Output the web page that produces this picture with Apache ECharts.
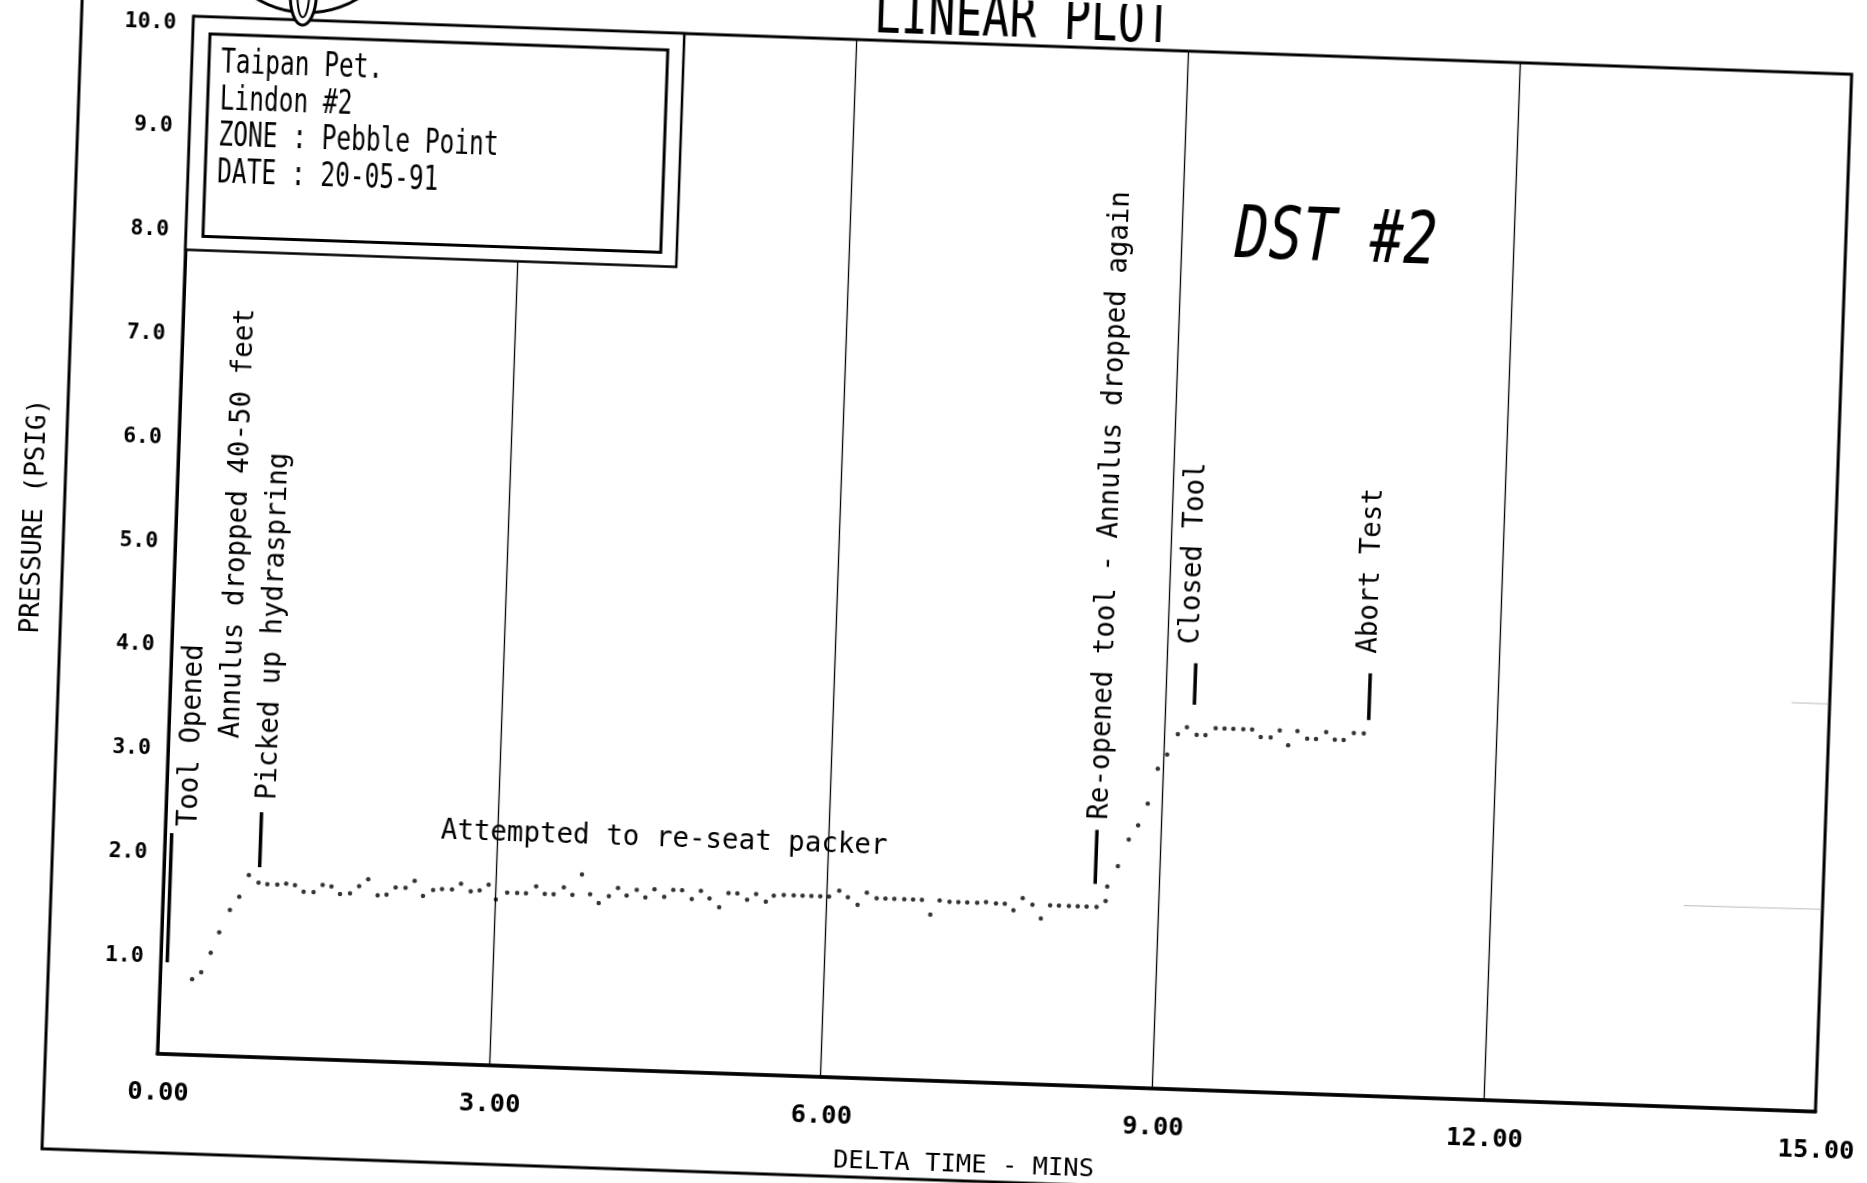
<!DOCTYPE html>
<html><head><meta charset="utf-8">
<script src="https://cdn.jsdelivr.net/npm/echarts@6/dist/echarts.min.js"></script>
<style>
html,body{margin:0;padding:0;background:#fff;overflow:hidden;width:1867px;height:1183px;}
#wrap{position:absolute;left:0;top:0;width:1960px;height:1260px;transform-origin:1004px 564px;transform:rotate(2deg);}
#chart{width:1960px;height:1260px;}
</style></head><body>
<div id="wrap"><div id="chart"></div></div>
<script>
// ---- data (DELTA TIME in minutes, PRESSURE in psig) ----
const timeMin = [
 0.29,0.37,0.45,0.52,0.61,0.69,0.77,0.86,0.94,1.03,1.11,1.19,1.27,1.36,1.44,1.52,1.60,1.69,1.77,1.85,
 1.94,2.02,2.10,2.19,2.27,2.35,2.44,2.52,2.61,2.69,2.78,2.86,2.94,3.01,3.11,3.20,3.28,3.37,3.45,3.53,
 3.62,3.70,3.78,3.86,3.94,4.03,4.11,4.19,4.28,4.36,4.44,4.53,4.61,4.69,4.78,4.86,4.94,5.03,5.11,5.19,
 5.28,5.36,5.45,5.52,5.61,5.70,5.78,5.86,5.94,6.02,6.11,6.19,6.28,6.36,6.45,6.53,6.61,6.70,6.78,6.86,
 6.94,7.02,7.11,7.19,7.27,7.36,7.44,7.53,7.61,7.69,7.77,7.86,7.94,8.02,8.10,8.19,8.27,8.35,8.44,8.52,
 8.53,8.62,8.71,8.79,8.87,8.95,9.03,9.12,9.20,9.29,9.37,9.46,9.54,9.62,9.71,9.79,9.87,9.96,10.04,10.12,
 10.20,10.29,10.37,10.46,10.54,10.62,10.71,10.80
];
const pressurePsig = [
 0.73,0.80,0.99,1.19,1.41,1.54,1.75,1.68,1.67,1.67,1.68,1.67,1.61,1.61,1.68,1.67,1.60,1.61,1.68,1.75,
 1.60,1.61,1.68,1.68,1.75,1.61,1.67,1.68,1.68,1.74,1.67,1.68,1.74,1.60,1.67,1.67,1.67,1.74,1.67,1.67,
 1.74,1.67,1.87,1.68,1.60,1.67,1.75,1.68,1.74,1.67,1.75,1.68,1.75,1.75,1.67,1.75,1.68,1.60,1.74,1.74,
 1.68,1.74,1.67,1.73,1.74,1.74,1.74,1.74,1.74,1.74,1.80,1.74,1.67,1.79,1.74,1.74,1.74,1.74,1.74,1.74,
 1.60,1.74,1.73,1.73,1.73,1.73,1.74,1.73,1.73,1.67,1.79,1.73,1.60,1.73,1.73,1.73,1.73,1.73,1.73,1.79,
 1.93,2.13,2.39,2.53,2.74,3.08,3.22,3.42,3.49,3.42,3.42,3.49,3.49,3.49,3.49,3.49,3.42,3.42,3.49,3.35,
 3.49,3.42,3.42,3.49,3.42,3.42,3.49,3.49
];
// event marker bars (time, low pressure, high pressure)
const markerTime = [0.06, 0.865, 8.42, 9.26, 10.84];
const markerLow  = [0.885, 1.83, 1.95, 3.71, 3.62];
const markerHigh = [2.13, 2.36, 2.47, 4.11, 4.07];
// vertical annotation texts (anchor = lower end of the text)
const annotText = ['Tool Opened','Annulus dropped 40-50 feet','Picked up hydraspring',
  'Re-opened tool - Annulus dropped again','Closed Tool','Abort Test'];
const annotTime = [0.22, 0.57, 0.925, 8.44, 9.21, 10.82];
const annotPres = [2.20, 3.06, 2.48, 2.57, 4.29, 4.26];
// horizontal annotation
const noteText = 'Attempted to re-seat packer';
const noteTime = 2.49, notePres = 2.16;
// faint traces at right edge
const traceATime = [13.75, 15.0], traceAPres = [1.94, 1.95];
const traceBTime = [14.66, 15.0], traceBPres = [3.93, 3.93];
// ticks
const xTickLabels = ['0.00','3.00','6.00','9.00','12.00','15.00'];
const yTickLabels = ['','1.0','2.0','3.0','4.0','5.0','6.0','7.0','8.0','9.0','10.0'];
const infoLines = ['Taipan Pet.','Lindon #2','ZONE : Pebble Point','DATE : 20-05-91'];
const titleText = 'LINEAR PLOT';
const stampText = 'DST #2';

const MONO = "'DejaVu Sans Mono','Liberation Mono',monospace";
const chart = echarts.init(document.getElementById('chart'), null, {renderer:'canvas'});

const series = [{
  type:'scatter', data: timeMin.map((t,i)=>[t, pressurePsig[i]]),
  symbol:'circle', symbolSize:4.5, itemStyle:{color:'#000'}, z:5, silent:true
}];
markerTime.forEach((t,i)=>{
  series.push({type:'line', data:[[t, markerLow[i]],[t, markerHigh[i]]], symbol:'none',
    lineStyle:{color:'#000', width:3.5}, z:6, silent:true});
});
series.push({type:'line', data: traceATime.map((t,i)=>[t, traceAPres[i]]), symbol:'none',
  lineStyle:{color:'#777', width:1, type:'dotted'}, silent:true});
series.push({type:'line', data: traceBTime.map((t,i)=>[t, traceBPres[i]]), symbol:'none',
  lineStyle:{color:'#777', width:1, type:'dotted'}, silent:true});

chart.setOption({
  animation:false,
  backgroundColor:'#fff',
  grid:{left:175, top:45, width:1659, height:1038, show:true, borderColor:'#000', borderWidth:3,
    containLabel:false, outerBoundsMode:'none'},
  xAxis:{type:'value', min:0, max:15, interval:3,
    axisLine:{show:true, lineStyle:{color:'#000', width:3.5}},
    axisTick:{show:false},
    splitLine:{show:true, lineStyle:{color:'#000', width:1.3}},
    axisLabel:{color:'#000', fontFamily:MONO, fontWeight:'bold', fontSize:25.5, margin:26,
      padding:[0,0,0,4], formatter:(v)=>xTickLabels[Math.round(v/3)]},
    name:'DELTA TIME - MINS', nameLocation:'middle', nameGap:70,
    nameTextStyle:{color:'#000', fontFamily:MONO, fontSize:25.5, padding:[0,40,0,0]}
  },
  yAxis:{type:'value', min:0, max:10, interval:1,
    axisLine:{show:true, lineStyle:{color:'#000', width:3}},
    axisTick:{show:false},
    splitLine:{show:false},
    axisLabel:{color:'#000', fontFamily:MONO, fontWeight:'bold', fontSize:21.5, margin:17,
      verticalAlign:'top', lineHeight:14, formatter:(v)=>yTickLabels[Math.round(v)]},
    name:'PRESSURE (PSIG)', nameLocation:'middle', nameGap:128,
    nameTextStyle:{color:'#000', fontFamily:MONO, fontSize:26, padding:[0,0,0,28]}
  },
  series: series
});

const px = p => chart.convertToPixel({xAxisIndex:0, yAxisIndex:0}, p);
const g = [];
// page border
g.push({type:'rect', shape:{x:63, y:-80, width:2100, height:1262}, style:{fill:'none', stroke:'#000', lineWidth:3}, silent:true, z:1});
// info box
const b0 = px([0,10]), b1 = px([4.44,7.75]);
g.push({type:'rect', shape:{x:b0[0], y:b0[1], width:b1[0]-b0[0], height:b1[1]-b0[1]},
  style:{fill:'#fff', stroke:'#000', lineWidth:2.5}, z:40});
g.push({type:'rect', shape:{x:b0[0]+17, y:b0[1]+17, width:b1[0]-b0[0]-33, height:b1[1]-b0[1]-31},
  style:{fill:'none', stroke:'#000', lineWidth:3}, z:41});
infoLines.forEach((t,i)=>{
  g.push({type:'text', x:b0[0]+29, y:b0[1]+55+i*36.8+8, scaleY:1.35,
    style:{text:t, font:'24.5px '+MONO, fill:'#000', align:'left', verticalAlign:'bottom', textAlign:'left', textVerticalAlign:'bottom'}, z:42});
});
// title
g.push({type:'text', x:1004, y:38+14, scaleY:1.35,
  style:{text:titleText, font:'45px '+MONO, fill:'#000', align:'center', verticalAlign:'bottom', textAlign:'center', textVerticalAlign:'bottom'}, z:42});
// logo
g.push({type:'circle', shape:{cx:285, cy:-60, r:97.5}, style:{fill:'none', stroke:'#000', lineWidth:3}, z:43});
g.push({type:'ellipse', shape:{cx:284, cy:20, rx:13, ry:30}, style:{fill:'#fff', stroke:'#000', lineWidth:3}, z:44});
g.push({type:'ellipse', shape:{cx:284, cy:17, rx:6, ry:25}, style:{fill:'none', stroke:'#000', lineWidth:2}, z:45});
// DST stamp
const sp = px([9.48, 8.03]);
g.push({type:'text', x:sp[0], y:sp[1]+17, scaleY:1.3,
  style:{text:stampText, font:'italic 56px '+MONO, fill:'#000', align:'left', verticalAlign:'bottom', textAlign:'left', textVerticalAlign:'bottom'}, z:42});
// vertical annotations
annotText.forEach((t,i)=>{
  const p = px([annotTime[i], annotPres[i]]);
  g.push({type:'text', x:p[0], y:p[1], rotation:Math.PI/2,
    style:{text:t, font:'27.5px '+MONO, fill:'#000', align:'left', verticalAlign:'middle', textAlign:'left', textVerticalAlign:'middle'}, z:42});
});
// horizontal annotation
const np = px([noteTime, notePres]);
g.push({type:'text', x:np[0], y:np[1]+6.5,
  style:{text:noteText, font:'27.5px '+MONO, fill:'#000', align:'left', verticalAlign:'bottom', textAlign:'left', textVerticalAlign:'bottom'}, z:42});

chart.setOption({graphic:{elements:g}});
</script>
</body></html>
